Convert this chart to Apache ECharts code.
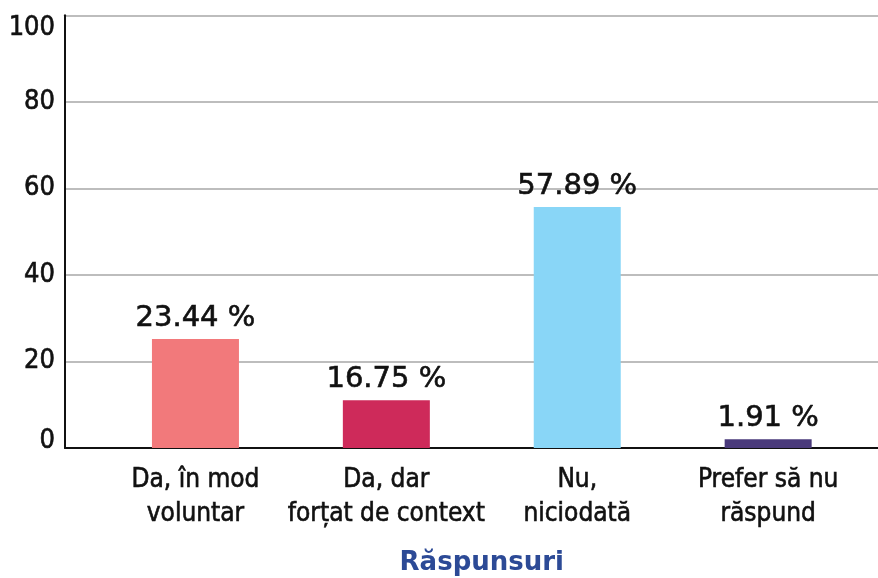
<!DOCTYPE html>
<html><head><meta charset="utf-8">
<script src="https://cdn.jsdelivr.net/npm/echarts@6/dist/echarts.min.js"></script>
<style>html,body{margin:0;padding:0;background:#fff}#c{width:878px;height:578px}</style>
</head><body><div id="c"></div>
<script>
var categories = ['Da, în mod\nvoluntar', 'Da, dar\nforțat de context', 'Nu,\nniciodată', 'Prefer să nu\nrăspund'];
var barHeights = [25.2, 11.05, 55.7, 2.05];
var labelTexts = ['23.44 %', '16.75 %', '57.89 %', '1.91 %'];
var barColors = ['#F2797B', '#CE2A5A', '#89D6F7', '#4A3A7B'];
var yTicks = [0, 20, 40, 60, 80, 100];
var axisTitle = 'Răspunsuri';

var chart = echarts.init(document.getElementById('c'), null, {renderer: 'canvas'});
var cond = '"DejaVu Sans Condensed", "DejaVu Sans", sans-serif';
var ink = '#111';
var thick = {textBorderColor: ink, textBorderWidth: 0.6};
chart.setOption({
  animation: false,
  backgroundColor: '#fff',
  grid: [
    {left: 65, right: 0, top: 15.3, bottom: 130, containLabel: false, outerBoundsMode: 'none'},
    {left: 100, right: 14.4, top: 15.3, bottom: 130, containLabel: false, outerBoundsMode: 'none'}
  ],
  xAxis: [
    {gridIndex: 0, type: 'category', data: categories, axisLabel: {show: false}, axisTick: {show: false},
     axisLine: {show: true, lineStyle: {color: ink, width: 2}}},
    {gridIndex: 1, type: 'category', data: categories,
     axisLine: {show: false}, axisTick: {show: false},
     axisLabel: Object.assign({show: true, interval: 0, margin: 15, color: ink, fontFamily: cond, fontSize: 26, lineHeight: 34, align: 'center'}, thick),
     name: axisTitle, nameLocation: 'middle', nameGap: 102,
     nameTextStyle: {color: '#2C4A96', fontFamily: '"DejaVu Sans", sans-serif', fontWeight: 'bold', fontSize: 26}}
  ],
  yAxis: [
    {gridIndex: 0, type: 'value', min: yTicks[0], max: yTicks[yTicks.length - 1], interval: 20,
     axisLine: {show: true, lineStyle: {color: ink, width: 2}}, axisTick: {show: false},
     splitLine: {show: true, lineStyle: {color: '#BDBDBD', width: 2}},
     axisLabel: {show: true, margin: 10, color: ink, fontFamily: cond, fontSize: 27,
       formatter: function (v) {
         if (v === yTicks[yTicks.length - 1]) return '{t|' + v + '}';
         if (v === yTicks[0]) return '{b|' + v + '}';
         return '{n|' + v + '}';
       },
       rich: {
         t: Object.assign({fontFamily: cond, fontSize: 27, color: ink, padding: [26, 0, 0, 0]}, thick),
         b: Object.assign({fontFamily: cond, fontSize: 27, color: ink, padding: [0, 0, 14, 0]}, thick),
         n: Object.assign({fontFamily: cond, fontSize: 27, color: ink}, thick)
       }}},
    {gridIndex: 1, type: 'value', min: yTicks[0], max: yTicks[yTicks.length - 1], show: false, splitLine: {show: false}}
  ],
  series: [{
    type: 'bar', xAxisIndex: 1, yAxisIndex: 1, barWidth: 87,
    data: barHeights.map(function (v, i) { return {value: v, itemStyle: {color: barColors[i]}}; }),
    label: Object.assign({show: true, position: 'top', distance: 6, color: ink, fontFamily: '"DejaVu Sans", sans-serif', fontSize: 29,
      formatter: function (p) { return labelTexts[p.dataIndex]; }}, thick)
  }]
});
</script></body></html>
